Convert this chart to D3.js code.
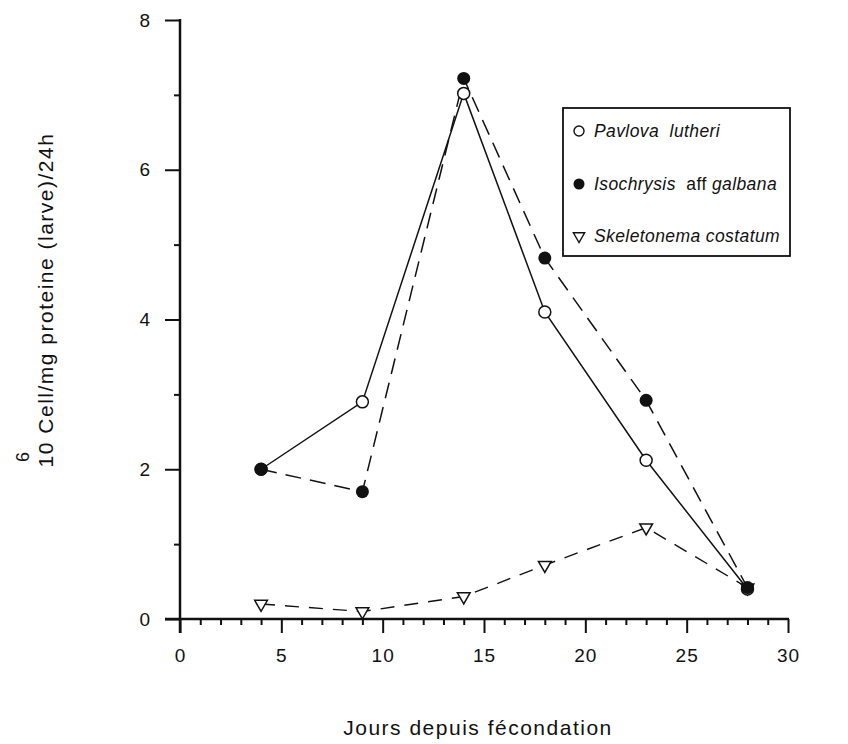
<!DOCTYPE html>
<html><head><meta charset="utf-8">
<script src="https://cdn.jsdelivr.net/npm/d3@7"></script>
<style>body{margin:0;background:#fff}svg{display:block}text{font-family:"Liberation Sans",Arial,sans-serif;fill:#111}</style>
</head><body>
<script>
const days = [4, 9, 14, 18, 23, 28];
const pavlova = [2.0, 2.9, 7.02, 4.1, 2.12, 0.4];
const isochrysis = [2.0, 1.7, 7.22, 4.82, 2.92, 0.42];
const skeletonema = [0.2, 0.1, 0.3, 0.72, 1.22, 0.42];
const xTicks = [0, 5, 10, 15, 20, 25, 30];
const yTicks = [0, 2, 4, 6, 8];
const legendLabels = [
  [{t:"Pavlova", i:true},{t:"  "},{t:"lutheri", i:true}],
  [{t:"Isochrysis", i:true},{t:"  aff "},{t:"galbana", i:true}],
  [{t:"Skeletonema costatum", i:true}]
];

const W = 848, H = 744;
const svg = d3.select("body").append("svg").attr("width", W).attr("height", H);
const x = d3.scaleLinear().domain([0, 30]).range([180, 788]);
const y = d3.scaleLinear().domain([0, 8]).range([619, 20]);

// axes
const ax = svg.append("g").attr("transform", `translate(0,${y(0)})`);
ax.call(d3.axisBottom(x).tickValues(xTicks).tickSize(14).tickPadding(16).tickFormat(d3.format("d")));
const axm = svg.append("g").attr("transform", `translate(0,${y(0)})`);
axm.call(d3.axisBottom(x).tickValues(d3.range(0, 31, 1).filter(d => d % 5)).tickSize(6).tickFormat(""));
const ay = svg.append("g").attr("transform", `translate(${x(0)},0)`);
ay.call(d3.axisLeft(y).tickValues(yTicks).tickSize(15).tickPadding(15).tickFormat(d3.format("d")));
const aym = svg.append("g").attr("transform", `translate(${x(0)},0)`);
aym.call(d3.axisLeft(y).tickValues([1, 3, 5, 7]).tickSize(6).tickFormat(""));
svg.selectAll(".domain").remove();
svg.selectAll(".tick line").attr("stroke", "#111").attr("stroke-width", 2);
svg.selectAll(".tick text").style("font-size", "19px").style("font-family", "'Liberation Sans',Arial,sans-serif").attr("fill", "#111");
ax.selectAll(".tick text").style("letter-spacing", "1px");
svg.append("line").attr("x1", x(0) - 15).attr("x2", x(30) + 1).attr("y1", y(0)).attr("y2", y(0)).attr("stroke", "#111").attr("stroke-width", 2.5);
svg.append("line").attr("x1", x(0)).attr("x2", x(0)).attr("y1", y(8) - 1).attr("y2", y(0) + 14).attr("stroke", "#111").attr("stroke-width", 2.5);

// lines
const line = (vals) => d3.line().x((d, i) => x(days[i])).y(d => y(d))(vals);
svg.append("path").attr("d", line(pavlova)).attr("fill", "none").attr("stroke", "#111").attr("stroke-width", 1.5);
svg.append("path").attr("d", line(isochrysis)).attr("fill", "none").attr("stroke", "#111").attr("stroke-width", 1.5).attr("stroke-dasharray", "16,9");
svg.append("path").attr("d", line(skeletonema)).attr("fill", "none").attr("stroke", "#111").attr("stroke-width", 1.4).attr("stroke-dasharray", "14,10");

// markers
const tri = d3.symbol().type(d3.symbolTriangle).size(70);
svg.append("g").selectAll("path").data(skeletonema).join("path")
  .attr("d", tri).attr("transform", (d, i) => `translate(${x(days[i])},${y(d)}) rotate(180)`)
  .attr("fill", "#fff").attr("stroke", "#111").attr("stroke-width", 1.5);
svg.append("g").selectAll("circle").data(pavlova).join("circle")
  .attr("cx", (d, i) => x(days[i])).attr("cy", d => y(d)).attr("r", 6)
  .attr("fill", "#fff").attr("stroke", "#111").attr("stroke-width", 1.5);
svg.append("g").selectAll("circle").data(isochrysis).join("circle")
  .attr("cx", (d, i) => x(days[i])).attr("cy", d => y(d)).attr("r", 6.5)
  .attr("fill", "#111");

// legend
svg.append("rect").attr("x", 563).attr("y", 108).attr("width", 227).attr("height", 148)
  .attr("fill", "#fff").attr("stroke", "#111").attr("stroke-width", 1.8);
const ly = [131, 184, 236];
svg.append("circle").attr("cx", 579).attr("cy", ly[0]).attr("r", 5).attr("fill", "#fff").attr("stroke", "#111").attr("stroke-width", 1.4);
svg.append("circle").attr("cx", 579).attr("cy", ly[1]).attr("r", 5.5).attr("fill", "#111");
svg.append("path").attr("d", d3.symbol().type(d3.symbolTriangle).size(55)).attr("transform", `translate(579,${ly[2]}) rotate(180)`)
  .attr("fill", "#fff").attr("stroke", "#111").attr("stroke-width", 1.4);
legendLabels.forEach((parts, k) => {
  const t = svg.append("text").attr("x", 594).attr("y", ly[k]).attr("dy", "0.35em").style("font-size", "17.5px").style("letter-spacing", "0.4px").attr("xml:space", "preserve").style("white-space", "pre");
  parts.forEach(p => t.append("tspan").text(p.t).style("font-style", p.i ? "italic" : "normal"));
});

// axis titles
svg.append("text").attr("x", 478).attr("y", 735).attr("text-anchor", "middle").style("font-size", "21px").style("letter-spacing", "1.5px").text("Jours depuis fécondation");
const yl = svg.append("g").attr("transform", "translate(53,300) rotate(-90)");
yl.append("text").attr("text-anchor", "middle").style("font-size", "21px").style("letter-spacing", "1.5px").text("10 Cell/mg proteine (larve)/24h");
yl.append("text").attr("x", -162).attr("y", -24).style("font-size", "18px").text("6");
</script>
</body></html>
